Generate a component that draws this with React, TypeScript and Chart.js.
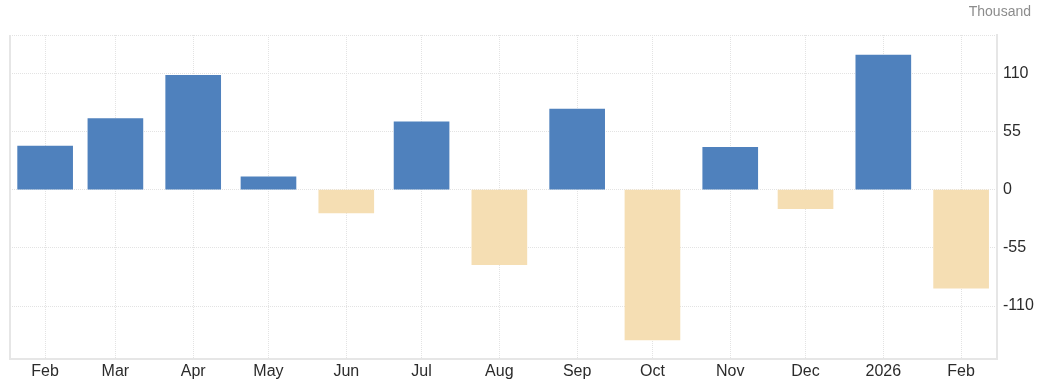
import React, { useEffect, useRef } from "react";
import { Chart, registerables } from "chart.js";

Chart.register(...registerables);

const dates = [
  "2025-02-01", "2025-03-01", "2025-04-01", "2025-05-01", "2025-06-01", "2025-07-01",
  "2025-08-01", "2025-09-01", "2025-10-01", "2025-11-01", "2025-12-01", "2026-01-01", "2026-02-01",
];
const tickLabels = ["Feb", "Mar", "Apr", "May", "Jun", "Jul", "Aug", "Sep", "Oct", "Nov", "Dec", "2026", "Feb"];
const values = [41, 67, 108, 12, -22, 64, -71, 76, -142, 40, -18, 127, -93];
const yTickValues = [-110, -55, 0, 55, 110];
const unitLabel = "Thousand";

const POS_COLOR = "#4f81bd";
const NEG_COLOR = "#f5deb3";

const DAY = 86400000;
const t0 = Date.parse(dates[0] + "T00:00:00Z");
const xDays = dates.map((d) => Math.round((Date.parse(d + "T00:00:00Z") - t0) / DAY));

export default function App() {
  const ref = useRef<HTMLCanvasElement | null>(null);

  useEffect(() => {
    if (!ref.current) return;
    const framePlugin = {
      id: "frame",
      beforeDatasetsDraw(chart: any) {
        const { ctx, chartArea } = chart;
        ctx.save();
        ctx.strokeStyle = "#e6e6e6";
        ctx.lineWidth = 2;
        ctx.beginPath();
        ctx.moveTo(chartArea.left, chartArea.top);
        ctx.lineTo(chartArea.left, chartArea.bottom + 1);
        ctx.stroke();
        ctx.restore();
      },
      afterDraw(chart: any) {
        const { ctx } = chart;
        ctx.save();
        ctx.fillStyle = "#8c8c8c";
        ctx.font = '14px "Liberation Sans", Arial, sans-serif';
        ctx.textAlign = "right";
        ctx.textBaseline = "alphabetic";
        ctx.fillText(unitLabel, 1031, 16);
        ctx.restore();
      },
    };

    const chart = new Chart(ref.current, {
      type: "bar",
      data: {
        datasets: [
          {
            data: xDays.map((x, i) => ({ x, y: values[i] })),
            backgroundColor: values.map((v) => (v >= 0 ? POS_COLOR : NEG_COLOR)),
            borderWidth: 0,
            barThickness: 55,
          },
        ],
      },
      options: {
        responsive: false,
        animation: false,
        layout: { padding: { left: 10, top: 35, right: 0, bottom: 0 } },
        plugins: {
          legend: { display: false },
          tooltip: { enabled: false },
          title: { display: false },
        },
        scales: {
          x: {
            type: "linear",
            min: -14,
            max: 379.3,
            offset: false,
            bounds: "data",
            afterBuildTicks: (scale: any) => {
              scale.ticks = xDays.map((v) => ({ value: v }));
            },
            afterFit: (scale: any) => {
              scale.height = 31;
            },
            ticks: {
              autoSkip: false,
              maxRotation: 0,
              padding: 3,
              color: "#2b2b2b",
              font: { family: '"Liberation Sans", Arial, sans-serif', size: 16 },
              callback: (_v: any, i: number) => tickLabels[i],
            },
            grid: { color: "#e3e3e3", lineWidth: 1, drawTicks: false, offset: false },
            border: { display: true, color: "#e6e6e6", width: 2, dash: [1, 1] },
          },
          y: {
            type: "linear",
            position: "right",
            min: -160,
            max: 146,
            afterFit: (scale: any) => {
              scale.width = 41;
            },
            ticks: {
              stepSize: 55,
              padding: 6,
              color: "#2b2b2b",
              font: { family: '"Liberation Sans", Arial, sans-serif', size: 16 },
              callback: (v: any) => (yTickValues.includes(Number(v)) ? String(v) : ""),
            },
            grid: { color: "#e3e3e3", lineWidth: 1, drawTicks: false },
            border: { display: true, color: "#e6e6e6", width: 2, dash: [1, 1] },
          },
        },
      },
      plugins: [framePlugin],
    } as any);
    return () => chart.destroy();
  }, []);

  return (
    <div style={{ position: "absolute", left: 0, top: 0, width: 1038, height: 390 }}>
      <canvas ref={ref} width={1038} height={390} style={{ width: 1038, height: 390 }} />
    </div>
  );
}
